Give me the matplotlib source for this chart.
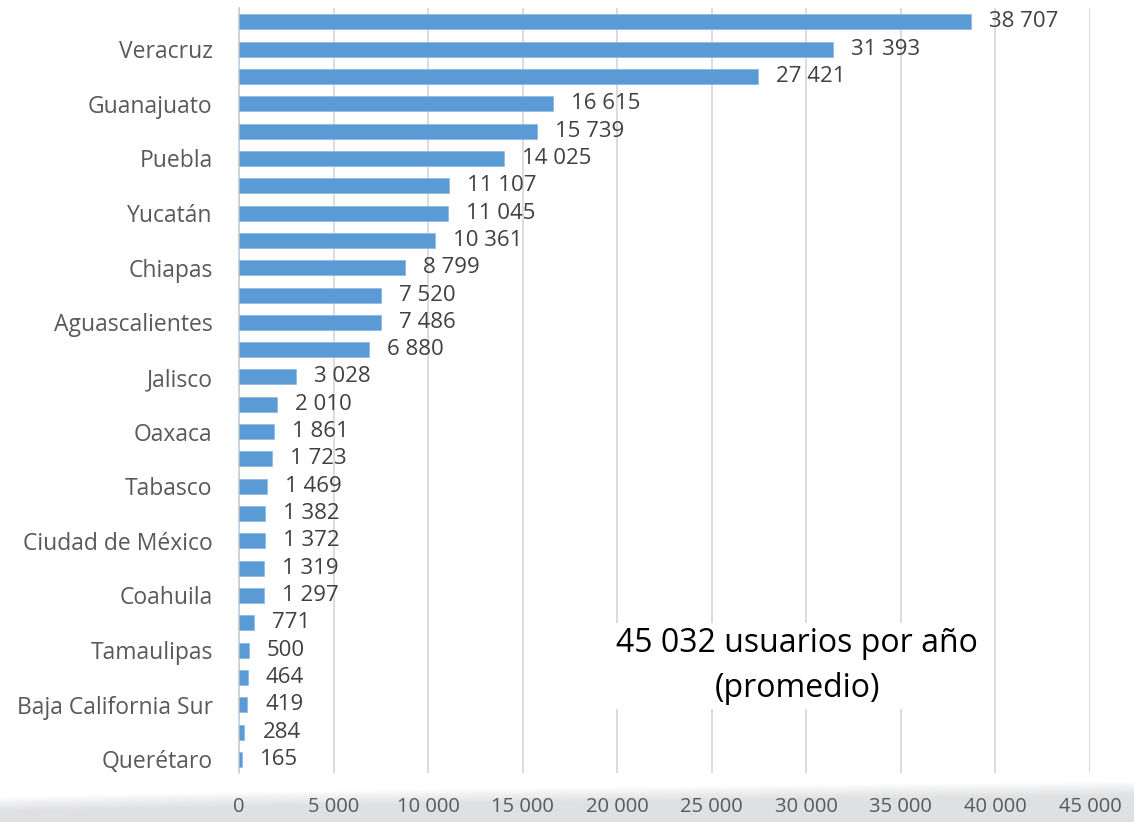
import matplotlib
matplotlib.use('Agg')
import matplotlib.pyplot as plt
import numpy as np

plt.rcParams['font.family'] = ['Open Sans', 'DejaVu Sans']

# categories top to bottom; only every other label is visible in the original
estados = ['', 'Veracruz', '', 'Guanajuato', '', 'Puebla', '', 'Yucatán',
           '', 'Chiapas', '', 'Aguascalientes', '', 'Jalisco', '', 'Oaxaca',
           '', 'Tabasco', '', 'Ciudad de México', '', 'Coahuila', '',
           'Tamaulipas', '', 'Baja California Sur', '', 'Querétaro']
usuarios = [38707, 31393, 27421, 16615, 15739, 14025, 11107, 11045, 10361,
            8799, 7520, 7486, 6880, 3028, 2010, 1861, 1723, 1469, 1382, 1372,
            1319, 1297, 771, 500, 464, 419, 284, 165]
xticks = [0, 5000, 10000, 15000, 20000, 25000, 30000, 35000, 40000, 45000]


def fmt(v):
    return f'{v:,}'.replace(',', ' ')


fig = plt.figure(figsize=(11.34, 8.22), dpi=100)

# soft gray swoosh at the bottom of the slide
bg = fig.add_axes([0, 0, 1, 0.06], zorder=-1)
W, H = 1134, 49
cols = np.arange(W)[None, :]
rows = np.arange(H)[:, None]          # 0 = top of the strip
edge = H - (24 + 16 * (cols / W) ** 0.7)
alpha = np.clip((rows - edge) / 14.0, 0, 1) ** 0.8
img = np.zeros((H, W, 4))
img[..., 0] = 0.875
img[..., 1] = 0.88
img[..., 2] = 0.89
img[..., 3] = alpha
bg.imshow(img, aspect='auto', extent=(0, 1, 0, 1), interpolation='bilinear')
bg.axis('off')

ax = fig.add_axes([0.2108, 0.0596, 0.7504, 0.9304])
ax.patch.set_alpha(0)

y = np.arange(len(usuarios))
ax.barh(y, usuarios, height=0.55, color='#5b9bd5', edgecolor='#8fbbe3',
        linewidth=0.6, zorder=3)
for yi, v in zip(y, usuarios):
    ax.annotate(fmt(v), (v, yi), xytext=(13, 0), textcoords='offset points',
                va='center', ha='left', fontsize=16, color='#404040')

ax.set_ylim(len(usuarios) - 0.5, -0.5)
ax.set_xlim(0, 45000)
ax.set_yticks(y)
ax.set_yticklabels(estados)
ax.set_xticks(xticks)
ax.set_xticklabels([fmt(t) for t in xticks])
ax.tick_params(axis='y', length=0, pad=19, labelsize=16.5, labelcolor='#595959')
ax.tick_params(axis='x', length=0, pad=17, labelsize=14.5, labelcolor='#595959')
ax.grid(axis='x', color='#d9d9d9', linewidth=1.3, zorder=0)
for s in ['top', 'right', 'bottom']:
    ax.spines[s].set_visible(False)
ax.spines['left'].set_color('#d0d0d0')
ax.spines['left'].set_linewidth(1.3)

ax.text(0.656, 0.14, '45 032 usuarios por año\n(promedio)',
        transform=ax.transAxes, ha='center', va='center', fontsize=23,
        color='black', linespacing=1.45,
        bbox=dict(facecolor='white', edgecolor='none', pad=3))

fig.savefig('out.png', dpi=100)
